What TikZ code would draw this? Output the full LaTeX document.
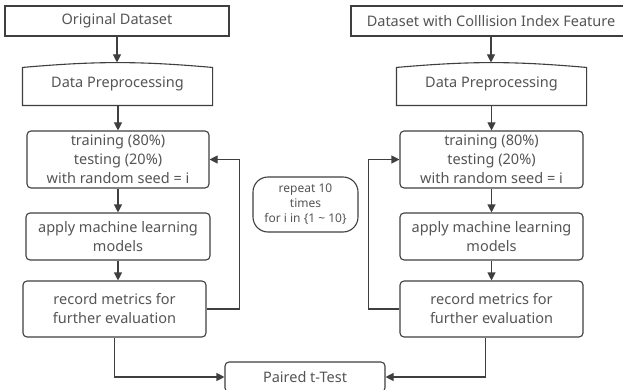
\documentclass[tikz,border=0pt]{standalone}
\usepackage{fontspec}
\setmainfont{Noto Sans}
\usetikzlibrary{arrows.meta}
\definecolor{linegray}{HTML}{3F3F3F}
\definecolor{textgray}{HTML}{555555}
\tikzset{
	box/.style={draw=linegray, line width=1.1pt, text=textgray, align=center, inner sep=0pt},
	roundbox/.style={box, rounded corners=4pt},
	flow/.style={draw=linegray, line width=1.1pt, -{Triangle[length=8pt,width=8pt]}},
}
\begin{document}
\begin{tikzpicture}[x=1pt,y=-1pt,font=\fontsize{14.5}{19}\selectfont]
	\fill[white] (0,0) rectangle (623,390);
	\clip (0,0) rectangle (623,390);
	\node[box, minimum width=224pt, minimum height=30pt] (orig1) at (117,21) {Original Dataset};
	\node[box, minimum width=280pt, minimum height=30pt] (orig2) at (491,21) {Dataset with Colllision Index Feature};
	\node[box, draw=none, minimum width=189pt, minimum height=42pt] (pre1) at (117.5,84) {\raisebox{-2pt}{Data Preprocessing}};
	\node[box, draw=none, minimum width=189pt, minimum height=42pt] (pre2) at (491.5,84) {\raisebox{-2pt}{Data Preprocessing}};
	\foreach \p in {pre1,pre2}
	{
		\draw[draw=linegray, line width=1.1pt] (\p.south west) -- ([yshift=-5pt]\p.north west)
			to[out=5,in=175] ([yshift=-5pt]\p.north east) -- (\p.south east) -- cycle;
	}
	\node[roundbox, minimum width=182pt, minimum height=57pt] (train1) at (118,159.5) {training (80\%)\\testing (20\%)\\with random seed = i};
	\node[roundbox, minimum width=183pt, minimum height=57pt] (train2) at (491.5,159.5) {training (80\%)\\testing (20\%)\\with random seed = i};
	\node[roundbox, minimum width=184pt, minimum height=47pt] (apply1) at (118,236.5) {apply machine learning\\models};
	\node[roundbox, minimum width=183pt, minimum height=47pt] (apply2) at (491.5,236.5) {apply machine learning\\models};
	\node[roundbox, minimum width=183pt, minimum height=56pt] (rec1) at (114.5,309) {record metrics for\\further evaluation};
	\node[roundbox, minimum width=183pt, minimum height=56pt] (rec2) at (491.5,309) {record metrics for\\further evaluation};
	\node[box, rounded corners=15pt, minimum width=105pt, minimum height=55pt, font=\fontsize{12}{15}\selectfont] (rep) at (305.5,204.5) {repeat 10\\times\\for i in \{1 \textasciitilde{} 10\}};
	\node[roundbox, minimum width=160pt, minimum height=30pt] (ttest) at (305,377) {Paired t-Test};
	\draw[flow] (orig1.south) -- (orig1.south |- pre1.north);
	\draw[flow] (orig2.south) -- (orig2.south |- pre2.north);
	\draw[flow] (pre1.south -| train1.north) -- (train1.north);
	\draw[flow] (pre2.south) -- (train2.north);
	\draw[flow] (train1.south) -- (apply1.north);
	\draw[flow] (train2.south) -- (apply2.north);
	\draw[flow] (apply1.south) -- (apply1.south |- rec1.north);
	\draw[flow] (apply2.south) -- (rec2.north);
	\draw[flow] (rec1.east) -- ++(33,0) |- (train1.east);
	\draw[flow] (rec2.west) -- ++(-31,0) |- (train2.west);
	\draw[flow] (rec1.south) |- (ttest.west);
	\draw[flow] ([xshift=-6pt]rec2.south) |- (ttest.east);
\end{tikzpicture}
\end{document}
